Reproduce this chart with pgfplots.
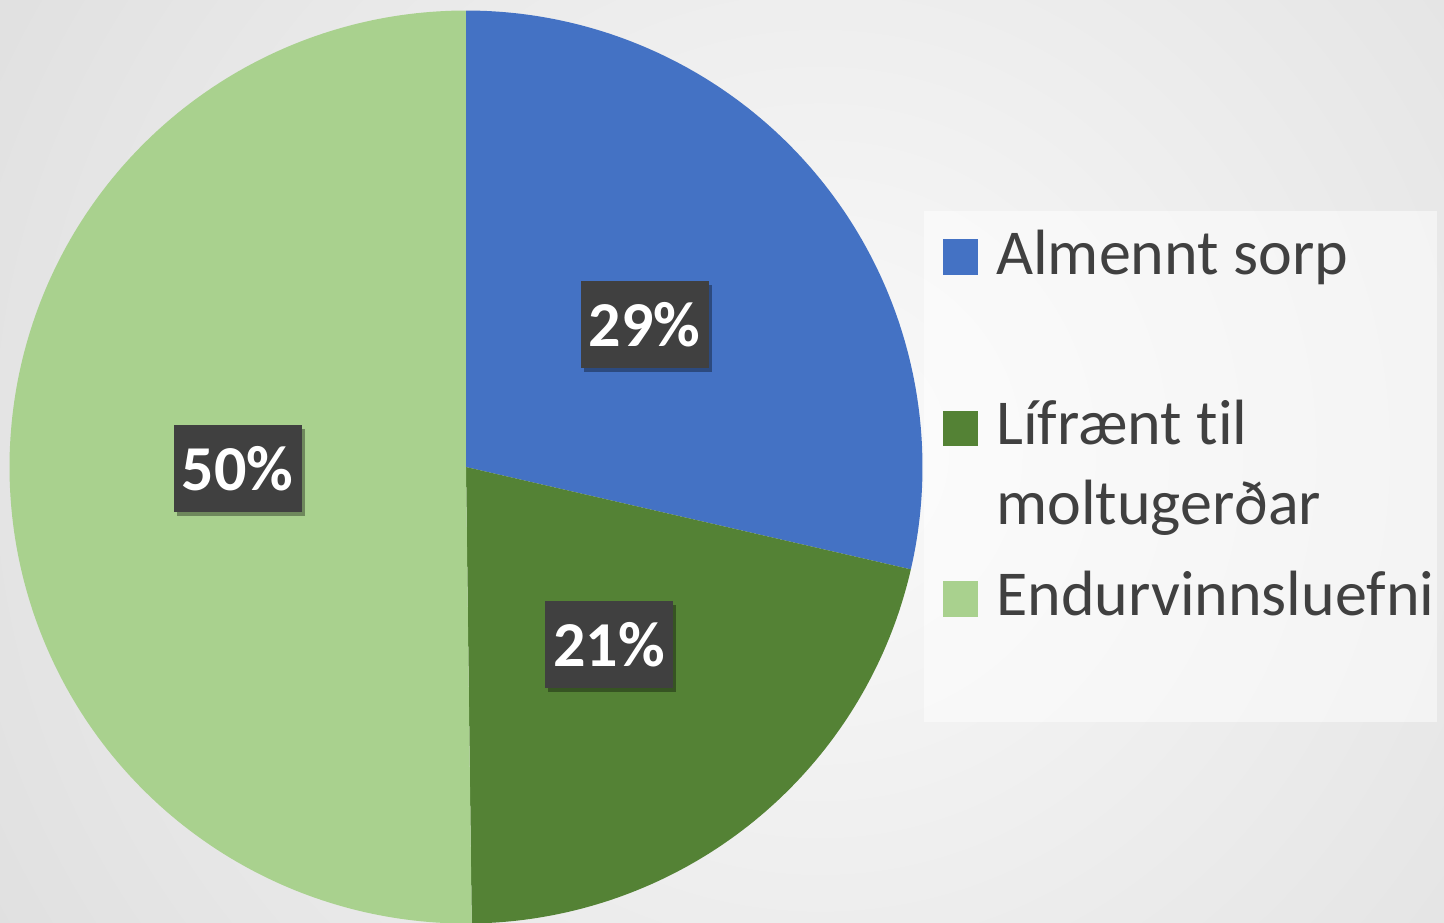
\documentclass[border=0pt]{standalone}
\usepackage{fontspec}
\setmainfont{Carlito}[Ligatures=NoCommon]
\usepackage{pgfplots}
\usepackage{pgfplotstable}
\pgfplotsset{compat=1.18}
\usepgfplotslibrary{polar}
\usetikzlibrary{shadows}

\definecolor{sorp}{HTML}{4472C4}
\definecolor{lifraent}{HTML}{548235}
\definecolor{endurv}{HTML}{A9D18E}
\definecolor{txt}{HTML}{404040}
\definecolor{lblfill}{HTML}{404040}
\definecolor{bglight}{HTML}{FAFAFA}
\definecolor{bgdark}{HTML}{C9C9C9}

\tikzset{
  lbl/.style={fill=lblfill, text=white,
      font=\fontsize{64}{64}\selectfont\bfseries,
      minimum width=128pt, minimum height=87pt, inner sep=0pt,
      drop shadow={shadow xshift=3pt, shadow yshift=-4pt, opacity=0.35, fill=black}},
  leg/.style={anchor=base west, inner sep=0pt, text=txt, font=\fontsize{64}{80}\selectfont},
}

\pgfplotstableread{
value
28.6
21.2
50.2
}\piedata

\begin{document}
\begin{tikzpicture}[x=1pt,y=1pt]
\useasboundingbox (0,0) rectangle (1444,922);
\begin{scope}
  \clip (0,0) rectangle (1444,922);
  \shade[inner color=bglight, outer color=bgdark] (820,470) circle (1800);
\end{scope}

% slice angles from the values (clockwise from the top)
\pgfplotstablegetelem{0}{value}\of\piedata \edef\va{\pgfplotsretval}
\pgfplotstablegetelem{1}{value}\of\piedata \edef\vb{\pgfplotsretval}
\pgfplotstablegetelem{2}{value}\of\piedata \edef\vc{\pgfplotsretval}
\pgfmathsetmacro\aA{90-3.6*\va}
\pgfmathsetmacro\aB{\aA-3.6*\vb}
\pgfmathsetmacro\aC{\aB-3.6*\vc}
\pgfmathsetmacro\mA{(90+\aA)/2}
\pgfmathsetmacro\mB{(\aA+\aB)/2}
\pgfmathsetmacro\mC{(\aB+\aC)/2}
\newcommand\pct[1]{\pgfmathprintnumber[fixed, precision=0, assume math mode=true]{#1}\%}

\begin{polaraxis}[
    hide axis,
    scale only axis,
    width=913pt, height=913pt,
    ymin=0, ymax=1,
    at={(466pt,455pt)}, anchor=center,
    clip=false,
]
  \addplot[draw=none, fill=sorp, domain=\aA:90, samples=150] {1} -- (axis cs:0,0) -- cycle;
  \addplot[draw=none, fill=lifraent, domain=\aB:\aA, samples=120] {1} -- (axis cs:0,0) -- cycle;
  \addplot[draw=none, fill=endurv, domain=\aC:\aB, samples=200] {1} -- (axis cs:0,0) -- cycle;

  \node[lbl] at (axis cs:\mA,0.5) {\pct{\va}};
  \node[lbl] at (axis cs:\mB,0.5) {\pct{\vb}};
  \node[lbl] at (axis cs:\mC,0.5) {\pct{\vc}};
\end{polaraxis}

% legend
\fill[white, opacity=0.5] (924,200) rectangle (1437,711);
\fill[sorp] (943,647) rectangle (978,683);
\node[leg] at (996,647) {Almennt sorp};
\fill[lifraent] (943,476) rectangle (978,511);
\node[leg] at (996,477) {Lífrænt til};
\node[leg] at (996,397) {moltugerðar};
\fill[endurv] (943,305) rectangle (978,341);
\node[leg] at (996,306) {Endurvinnsluefni};
\end{tikzpicture}
\end{document}
